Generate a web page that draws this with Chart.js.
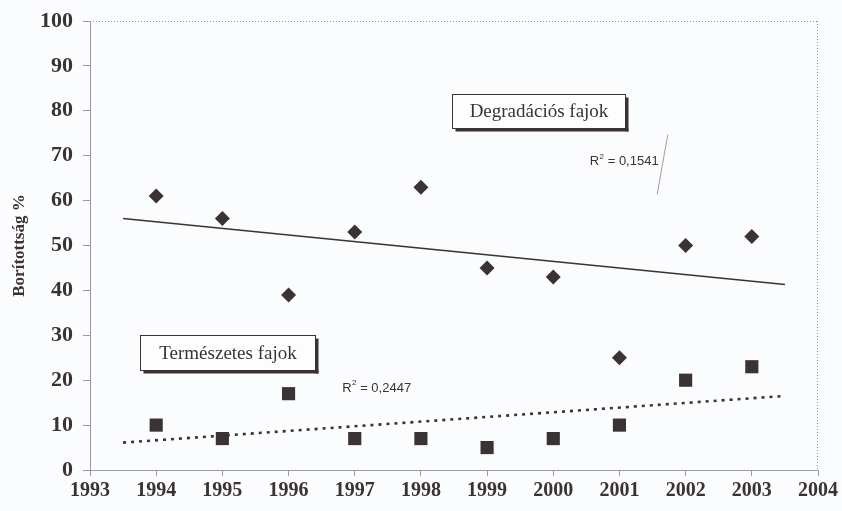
<!DOCTYPE html>
<html>
<head>
<meta charset="utf-8">
<script src="https://cdn.jsdelivr.net/npm/chart.js@4.4.1/dist/chart.umd.min.js"></script>
<style>
  html, body { margin: 0; padding: 0; background: #fbfcfd; }
  #wrap { width: 842px; height: 511px; }
</style>
</head>
<body>
<div id="wrap"><canvas id="chart" width="842" height="511"></canvas></div>
<script>
// Borítottság (%) by year, two species groups
const years = [1994, 1995, 1996, 1997, 1998, 1999, 2000, 2001, 2002, 2003];
const degradacios = [61, 56, 39, 53, 63, 45, 43, 25, 50, 52];
const termeszetes = [10, 7, 17, 7, 7, 5, 7, 10, 20, 23];

// linear trend lines, start and end
const trendYears = [1993.5, 2003.5];
const degradaciosTrend = [56.0, 41.3];
const termeszetesTrend = [6.1, 16.5];

const xTicks = [1993, 1994, 1995, 1996, 1997, 1998, 1999, 2000, 2001, 2002, 2003, 2004];
const yTicks = [0, 10, 20, 30, 40, 50, 60, 70, 80, 90, 100];

const seriesNames = ["Degradációs fajok", "Természetes fajok"];
const r2Values = ["0,1541", "0,2447"];

const INK = "#3a3234";
const AXIS = "#9a9a9c";

function points(xs, ys) {
    return xs.map((x, i) => ({ x: x, y: ys[i] }));
}

// labelled boxes and R² captions, placed in data units
const notes = [
    { kind: "box", text: seriesNames[0], x0: 1998.47, x1: 2001.09, y0: 83.8, y1: 76.2 },
    { kind: "box", text: seriesNames[1], x0: 1993.76, x1: 1996.4, y0: 30.0, y1: 22.2 },
    { kind: "r2", text: r2Values[0], x: 2000.55, y: 68.7 },
    { kind: "r2", text: r2Values[1], x: 1996.81, y: 18.2 }
];

const decorPlugin = {
    id: "decor",
    beforeDraw(chart) {
        const ctx = chart.ctx;
        ctx.save();
        ctx.fillStyle = "#fbfcfd";
        ctx.fillRect(0, 0, chart.width, chart.height);
        ctx.restore();
    },
    beforeDatasetsDraw(chart) {
        // dotted frame round the plot area
        const { ctx, chartArea: a } = chart;
        ctx.save();
        ctx.strokeStyle = AXIS;
        ctx.lineWidth = 1;
        ctx.setLineDash([1, 2]);
        ctx.beginPath();
        ctx.moveTo(a.left, a.top + 0.5);
        ctx.lineTo(a.right, a.top + 0.5);
        ctx.moveTo(a.right - 0.5, a.top);
        ctx.lineTo(a.right - 0.5, a.bottom);
        ctx.stroke();
        ctx.restore();
    },
    afterDatasetsDraw(chart) {
        const ctx = chart.ctx;
        const xs = chart.scales.x, ys = chart.scales.y;
        ctx.save();
        notes.forEach(n => {
            if (n.kind === "box") {
                const l = Math.round(xs.getPixelForValue(n.x0)) + 0.5;
                const r = Math.round(xs.getPixelForValue(n.x1)) + 0.5;
                const t = Math.round(ys.getPixelForValue(n.y0)) + 0.5;
                const b = Math.round(ys.getPixelForValue(n.y1)) + 0.5;
                // drop shadow
                ctx.fillStyle = INK;
                ctx.fillRect(l + 3, b, r - l, 3);
                ctx.fillRect(r, t + 3, 3, b - t);
                ctx.fillStyle = "#fdfdfd";
                ctx.fillRect(l, t, r - l, b - t);
                ctx.strokeStyle = INK;
                ctx.lineWidth = 1;
                ctx.strokeRect(l, t, r - l, b - t);
                ctx.fillStyle = INK;
                ctx.font = "19px 'Liberation Serif', 'Times New Roman', serif";
                ctx.textAlign = "center";
                ctx.textBaseline = "middle";
                ctx.fillText(n.text, (l + r) / 2, (t + b) / 2 + 1);
            } else {
                const px = xs.getPixelForValue(n.x);
                const py = ys.getPixelForValue(n.y);
                ctx.fillStyle = INK;
                ctx.textAlign = "left";
                ctx.textBaseline = "middle";
                ctx.font = "13px 'Liberation Sans', Arial, sans-serif";
                ctx.fillText("R", px, py);
                const w = ctx.measureText("R").width;
                ctx.font = "8px 'Liberation Sans', Arial, sans-serif";
                ctx.fillText("2", px + w + 0.5, py - 5);
                ctx.font = "13px 'Liberation Sans', Arial, sans-serif";
                ctx.fillText(" = " + n.text, px + w + 5, py);
            }
        });
        // thin leader by the upper R² caption
        ctx.strokeStyle = "#8a8486";
        ctx.lineWidth = 0.8;
        ctx.beginPath();
        ctx.moveTo(xs.getPixelForValue(2001.73), ys.getPixelForValue(74.7));
        ctx.lineTo(xs.getPixelForValue(2001.57), ys.getPixelForValue(61.4));
        ctx.stroke();
        ctx.restore();
    }
};

const tickFont = { family: "'Liberation Serif', 'Times New Roman', serif", weight: "bold" };

new Chart(document.getElementById("chart"), {
    type: "scatter",
    data: {
        datasets: [
            {
                label: seriesNames[0],
                data: points(years, degradacios),
                pointStyle: "rectRot",
                pointRadius: 7.5,
                backgroundColor: INK,
                borderColor: INK,
                borderWidth: 0
            },
            {
                label: seriesNames[1],
                data: points(years, termeszetes),
                pointStyle: "rect",
                pointRadius: 9.3,
                backgroundColor: INK,
                borderColor: INK,
                borderWidth: 0
            },
            {
                label: "trend " + seriesNames[0],
                data: points(trendYears, degradaciosTrend),
                showLine: true,
                pointRadius: 0,
                borderColor: INK,
                borderWidth: 1.6
            },
            {
                label: "trend " + seriesNames[1],
                data: points(trendYears, termeszetesTrend),
                showLine: true,
                pointRadius: 0,
                borderColor: INK,
                borderWidth: 2.6,
                borderDash: [3, 5]
            }
        ]
    },
    options: {
        responsive: false,
        animation: false,
        layout: { padding: { top: 19, right: 24, left: 0, bottom: 0 } },
        plugins: {
            legend: { display: false },
            tooltip: { enabled: false }
        },
        scales: {
            x: {
                type: "linear",
                min: xTicks[0],
                max: xTicks[xTicks.length - 1],
                afterBuildTicks: s => { s.ticks = xTicks.map(v => ({ value: v })); },
                afterFit: s => { s.height = 41; },
                grid: { drawOnChartArea: false, drawTicks: true, tickLength: 6, color: AXIS },
                border: { color: AXIS, dash: [1, 2] },
                ticks: {
                    padding: 3,
                    color: INK,
                    font: Object.assign({ size: 20 }, tickFont),
                    callback: v => String(v)
                }
            },
            y: {
                min: yTicks[0],
                max: yTicks[yTicks.length - 1],
                afterBuildTicks: s => { s.ticks = yTicks.map(v => ({ value: v })); },
                afterFit: s => { s.width = 90; },
                grid: { drawOnChartArea: false, drawTicks: true, tickLength: 7, color: AXIS },
                border: { color: AXIS, dash: [1, 2] },
                ticks: {
                    padding: 10,
                    color: INK,
                    font: Object.assign({ size: 22, lineHeight: 1 }, tickFont)
                },
                title: {
                    display: true,
                    text: "Borítottság %",
                    color: INK,
                    padding: { top: 9, bottom: 0 },
                    font: Object.assign({ size: 17 }, tickFont)
                }
            }
        }
    },
    plugins: [decorPlugin]
});
</script>
</body>
</html>
